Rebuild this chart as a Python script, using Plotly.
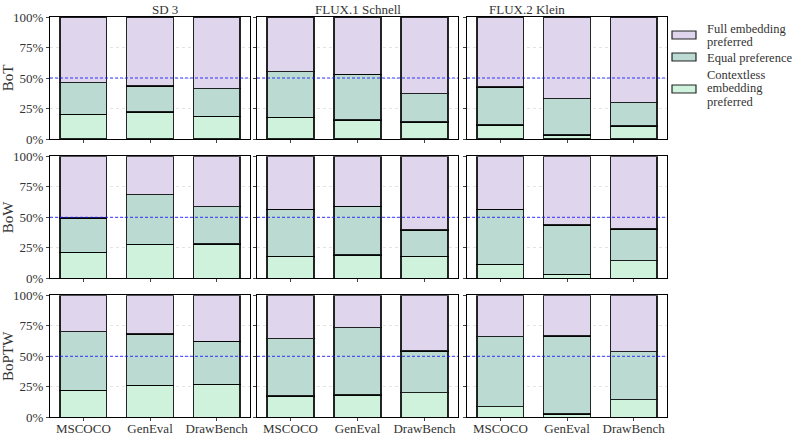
import plotly.graph_objects as go
from plotly.subplots import make_subplots

datasets = ["MSCOCO", "GenEval", "DrawBench"]
models = ["SD 3", "FLUX.1 Schnell", "FLUX.2 Klein"]
rows_lbl = ["BoT", "BoW", "BoPTW"]
series_names = ["Contextless embedding preferred", "Equal preference", "Full embedding preferred"]
legend_lines = [["Contextless", "embedding", "preferred"], ["Equal preference"], ["Full embedding", "preferred"]]

# BoT
bot_ctx = [[20.2, 22.1, 18.5], [17.7, 15.6, 13.9], [11.5, 3.3, 10.7]]
bot_eq = [[25.9, 21.3, 22.7], [37.5, 37.4, 23.2], [31.1, 29.7, 19.1]]
bot_full = [[53.9, 56.6, 58.8], [44.8, 47.0, 62.9], [57.4, 67.0, 70.2]]
# BoW
bow_ctx = [[21.3, 27.9, 28.1], [18.0, 19.1, 18.0], [11.5, 3.3, 14.4]]
bow_eq = [[28.1, 40.6, 30.6], [38.6, 39.9, 21.6], [45.1, 40.4, 26.0]]
bow_full = [[50.6, 31.5, 41.3], [43.4, 41.0, 60.4], [43.4, 56.3, 59.6]]
# BoPTW
boptw_ctx = [[22.1, 26.2, 27.0], [17.5, 18.3, 20.2], [8.7, 2.7, 14.4]]
boptw_eq = [[48.1, 42.1, 35.3], [46.9, 55.1, 34.1], [57.4, 63.9, 39.4]]
boptw_full = [[29.8, 31.7, 37.7], [35.6, 26.6, 45.7], [33.9, 33.4, 46.2]]

data = [
    (bot_ctx, bot_eq, bot_full),
    (bow_ctx, bow_eq, bow_full),
    (boptw_ctx, boptw_eq, boptw_full),
]

colors = ["#cef2dc", "#badad2", "#dfd5ec"]
FONT = "Liberation Serif"
TXT = "#333"
W, H = 793, 436

fig = make_subplots(rows=3, cols=3)

col_px = [(50, 250), (257, 458), (467, 667)]
row_px = [(17, 139), (156.3, 278.3), (295.3, 417.3)]

for r in range(3):
    for c in range(3):
        vals = data[r]
        for s in range(3):
            fig.add_trace(go.Bar(
                x=datasets, y=vals[s][c], name=series_names[s],
                marker=dict(color=colors[s], line=dict(color="rgba(0,0,0,0.85)", width=1.2)),
                width=0.7, showlegend=False,
                hoverinfo="skip",
            ), row=r + 1, col=c + 1)

fig.update_layout(barmode="stack")

axis_font = dict(family=FONT, size=13, color=TXT)
for r in range(3):
    for c in range(3):
        idx = r * 3 + c + 1
        sfx = "" if idx == 1 else str(idx)
        xa = "xaxis" + sfx
        ya = "yaxis" + sfx
        x0, x1 = col_px[c]
        y0, y1 = row_px[r]
        fig.layout[xa].update(
            domain=[x0 / W, x1 / W], range=[-0.5, 2.5], automargin=False,
            showline=True, mirror=True, linecolor="black", linewidth=1.2,
            ticks="outside", ticklen=3, tickcolor="#444", ticklabelstandoff=-4,
            showticklabels=(r == 2), tickfont=axis_font, showgrid=False,
        )
        fig.layout[ya].update(
            domain=[1 - y1 / H, 1 - y0 / H], range=[0, 100], automargin=False,
            showline=True, mirror=True, linecolor="black", linewidth=1.2,
            ticks="outside", ticklen=3, tickcolor="#444",
            tickvals=[0, 25, 50, 75, 100], ticktext=["0%", "25%", "50%", "75%", "100%"],
            showticklabels=(c == 0), tickfont=axis_font,
            showgrid=True, gridcolor="#e4e4e4", griddash="dot", gridwidth=1, zeroline=False,
        )
        if c == 0:
            fig.layout[ya].update(title=dict(text=rows_lbl[r], font=dict(family=FONT, size=15, color=TXT), standoff=6))
        fig.add_shape(type="line", xref=f"x{sfx} domain", yref=f"y{sfx}",
                      x0=0, x1=1, y0=50, y1=50, line=dict(color="rgba(20,20,255,0.85)", width=1, dash="3px,2px"),
                      layer="above")

for c in range(3):
    x0, x1 = col_px[c]
    fig.add_annotation(text=models[c], xref="paper", yref="paper", x=(x0 + x1) / 2 / W, y=1 - 9 / H,
                       showarrow=False, font=dict(family=FONT, size=13, color=TXT), yanchor="middle")

# legend (drawn manually: wide rectangles + text lines)
patch_cy = [89, 57, 35]
line_ys = [[75, 88.5, 102], [58], [28.5, 42]]
for s in range(3):
    cy = patch_cy[s]
    fig.add_shape(type="rect", xref="paper", yref="paper",
                  x0=672 / W, x1=696 / W, y0=1 - (cy + 4) / H, y1=1 - (cy - 4) / H,
                  fillcolor=colors[s], line=dict(color="rgba(0,0,0,0.85)", width=1.2))
    for t, ly in zip(legend_lines[s], line_ys[s]):
        fig.add_annotation(text=t, xref="paper", yref="paper", x=705 / W, y=1 - ly / H,
                           xanchor="left", yanchor="middle", showarrow=False,
                           font=dict(family=FONT, size=12.5, color=TXT))

fig.update_layout(
    width=W, height=H, margin=dict(l=0, r=0, t=0, b=0),
    plot_bgcolor="white", paper_bgcolor="white",
    showlegend=False,
)

fig.write_html("out.html")
